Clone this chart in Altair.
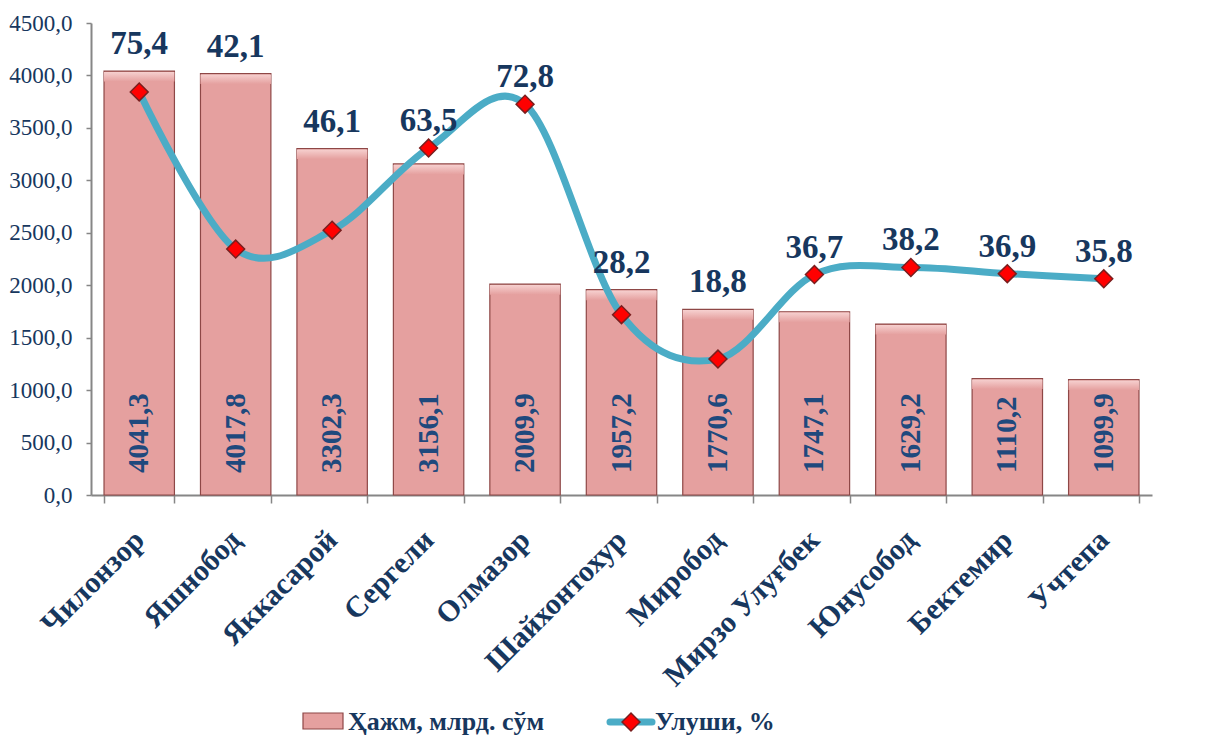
import altair as alt
import pandas as pd

districts = ["Чилонзор", "Яшнобод", "Яккасарой", "Сергели", "Олмазор", "Шайхонтохур",
             "Миробод", "Мирзо Улуғбек", "Юнусобод", "Бектемир", "Учтепа"]
volume = [4041.3, 4017.8, 3302.3, 3156.1, 2009.9, 1957.2, 1770.6, 1747.1, 1629.2, 1110.2, 1099.9]
share = [75.4, 42.1, 46.1, 63.5, 72.8, 28.2, 18.8, 36.7, 38.2, 36.9, 35.8]
series_names = ["Ҳажм, млрд. сўм", "Улуши, %"]
left_ticks = [0, 500, 1000, 1500, 2000, 2500, 3000, 3500, 4000, 4500]
right_ticks = [-10, 10, 30, 50, 70, 90]

df = pd.DataFrame({"district": districts, "volume": volume, "share": share})

W, H = 1061, 472
NAVY = "#17375E"
LABEL_BLUE = "#1F497D"
BAR_FILL = "#E5A09F"
BAR_LIGHT = "#F6D0CF"
BAR_STROKE = "#8E4746"
TEAL = "#4BACC6"
SERIF = "Liberation Serif"
SERIF_REG = "'Times New Roman', 'Liberation Serif', 'DejaVu Serif', serif"
AXIS_GRAY = "#868686"
fmt = "replace(format(datum.value, '.1f'), '.', ',')"

x = alt.X("district:N", sort=districts,
          scale=alt.Scale(paddingInner=0.27, paddingOuter=0.135),
          axis=alt.Axis(title=None, labelAngle=-45, labelAlign="right", labelBaseline="middle",
                        labelFont=SERIF, labelFontSize=30, labelFontWeight="bold", labelColor=NAVY,
                        labelPadding=32, labelLimit=0, tickBand="extent", tickSize=8,
                        tickColor=AXIS_GRAY, domainColor=AXIS_GRAY, domainWidth=2, tickWidth=1.5))

left_scale = alt.Scale(domain=[0, 4500], nice=False, zero=True)
right_scale = alt.Scale(domain=[-10, 90], nice=False, zero=False)

base = alt.Chart(df)

bars = base.mark_bar(fill=BAR_FILL, stroke=BAR_STROKE, strokeWidth=1.2).encode(
    x=x,
    y=alt.Y("volume:Q", scale=left_scale,
            axis=alt.Axis(title=None, values=left_ticks, labelExpr=fmt, orient="left", grid=False,
                          labelFont=SERIF_REG, labelFontSize=23, labelFontWeight="normal",
                          labelColor=NAVY, tickSize=5,
                          tickColor=AXIS_GRAY, domainColor=AXIS_GRAY, domainWidth=2,
                          tickWidth=1.5, labelPadding=14)),
)
bevel = base.mark_bar(
    fill=alt.Gradient(gradient="linear", x1=0, x2=0, y1=0, y2=1,
                      stops=[alt.GradientStop(offset=0, color=BAR_LIGHT),
                             alt.GradientStop(offset=1, color=BAR_FILL)]),
    stroke=None, xOffset=0,
).encode(
    x=x,
    y=alt.Y("vtop:Q", scale=left_scale),
    y2="vlow:Q",
).transform_calculate(vtop="datum.volume - 8", vlow="datum.volume - 100")

bar_labels = base.mark_text(angle=270, align="left", baseline="middle", dx=22,
                            font=SERIF, fontSize=29, fontWeight="bold", color=LABEL_BLUE).encode(
    x=x,
    y=alt.datum(0),
    text=alt.Text("lbl:N"),
).transform_calculate(lbl=fmt.replace("datum.value", "datum.volume"))

left = alt.layer(bars, bevel, bar_labels)

line = base.mark_line(interpolate="cardinal", color=TEAL, strokeWidth=7, strokeCap="round").encode(
    x=x,
    y=alt.Y("share:Q", scale=right_scale,
            axis=alt.Axis(title=None, values=right_ticks, labelExpr=fmt, orient="right", grid=False,
                          labelFont=SERIF_REG, labelFontSize=23, labelFontWeight="normal",
                          labelColor=NAVY, tickSize=5,
                          tickColor=AXIS_GRAY, domainColor=AXIS_GRAY, domainWidth=2,
                          tickWidth=1.5, labelPadding=15)),
)
points = base.mark_point(shape="diamond", filled=True, fill="#FF0000", stroke="#7A1E1E",
                         strokeWidth=1.5, size=320, opacity=1).encode(
    x=x, y=alt.Y("share:Q", scale=right_scale))
line_labels = base.mark_text(baseline="middle", dy=-27, font=SERIF, fontSize=33,
                             fontWeight="bold", color=NAVY).encode(
    x=x,
    y=alt.Y("anchor:Q", scale=right_scale, axis=None),
    text="lbl:N",
).transform_calculate(
    anchor="max(datum.share, datum.volume / 45 - 10)",
    lbl=fmt.replace("datum.value", "datum.share"),
)

right = alt.layer(line, points, line_labels)

dummy = alt.Chart(alt.InlineData(values=[{"k": 1}]))
leg_bar = dummy.mark_rect(fill=BAR_FILL, stroke=BAR_STROKE, strokeWidth=1.2).encode(
    x=alt.value(212), x2=alt.value(252), y=alt.value(690), y2=alt.value(706))
leg_text1 = dummy.mark_text(align="left", baseline="alphabetic", font=SERIF, fontSize=26,
                            fontWeight="bold", color=NAVY).encode(
    x=alt.value(257), y=alt.value(707), text=alt.value(series_names[0]))
leg_line = dummy.mark_rule(color=TEAL, strokeWidth=7, strokeCap="round").encode(
    x=alt.value(519), x2=alt.value(561), y=alt.value(699))
leg_pt = dummy.mark_point(shape="diamond", filled=True, fill="#FF0000", stroke="#7A1E1E",
                          strokeWidth=1.5, size=320, opacity=1).encode(
    x=alt.value(540), y=alt.value(699))
leg_text2 = dummy.mark_text(align="left", baseline="alphabetic", font=SERIF, fontSize=26,
                            fontWeight="bold", color=NAVY).encode(
    x=alt.value(564), y=alt.value(707), text=alt.value(series_names[1]))

chart = alt.layer(left, right, leg_bar, leg_text1, leg_line, leg_pt, leg_text2).resolve_scale(
    y="independent"
).properties(
    width=W, height=H,
    autosize=alt.AutoSizeParams(type="none"),
    padding={"left": 83, "top": 15, "right": 59, "bottom": 244},
    background="white",
).configure_view(stroke=None).configure_text(font=SERIF)

chart.save("out.html", embed_options={"renderer": "svg", "actions": False})
